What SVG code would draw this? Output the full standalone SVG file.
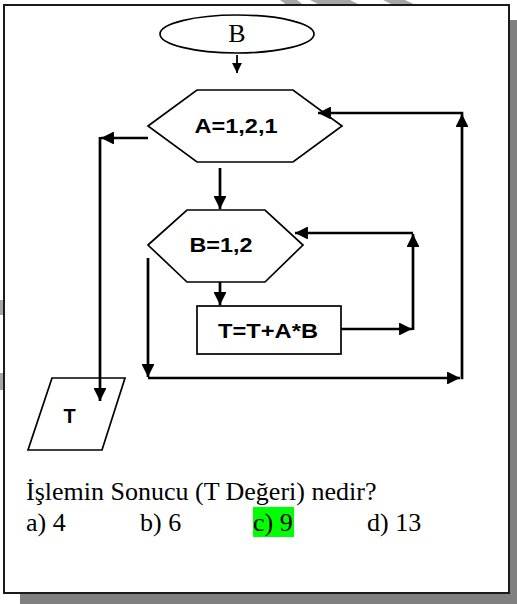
<svg xmlns="http://www.w3.org/2000/svg" width="517" height="604" viewBox="0 0 517 604">
<defs>
<style>
.shape{fill:#fff;stroke:#000;stroke-width:1.7}
.ln{fill:none;stroke:#000;stroke-width:2.7}
.thin{fill:none;stroke:#000;stroke-width:1.8}
.lbl{font-family:"Liberation Sans",Arial,sans-serif;font-weight:bold;font-size:20px;text-anchor:middle}
.ser{font-family:"Liberation Serif","Times New Roman",serif;font-size:26px}
.wm{fill:#a6a6a6}
</style>
<marker id="ah" viewBox="0 0 10 10" refX="10" refY="5" markerWidth="5.6" markerHeight="4.8" markerUnits="strokeWidth" orient="auto">
<path d="M0,0 L10,5 L0,10 Z" fill="#000"/>
</marker>
<marker id="ahs" viewBox="0 0 10 10" refX="10" refY="5" markerWidth="5.5" markerHeight="5.5" markerUnits="strokeWidth" orient="auto">
<path d="M0,0 L10,5 L0,10 Z" fill="#000"/>
</marker>
</defs>
<rect width="517" height="604" fill="#fff"/>
<g id="watermark">
<polygon class="wm" points="280,0 297,0 305,6 288,6"/>
<polygon class="wm" points="310,0 350,0 362,6 322,6"/>
<polygon class="wm" points="383,0 405,0 418,6 395,6"/>
<rect class="wm" x="0" y="300" width="4" height="15"/>
<rect class="wm" x="0" y="373" width="4" height="17"/>
</g>
<rect x="20" y="20" width="497" height="584" fill="#808080"/>
<rect x="4" y="5" width="505" height="588" fill="#fff" stroke="#1a1a1a" stroke-width="2"/>
<g id="start">
<ellipse class="shape" cx="237" cy="34" rx="77" ry="19"/>
<text class="ser" x="237" y="42" text-anchor="middle">B</text>
</g>
<g id="loopA">
<polygon class="shape" points="148,126 197,90 293,90 342,126 293,162 197,162"/>
<text class="lbl" x="236" y="133" textLength="83" lengthAdjust="spacingAndGlyphs">A=1,2,1</text>
</g>
<g id="loopB">
<polygon class="shape" points="148,245 187,210 265,210 303,245 265,282 187,282"/>
<text class="lbl" x="221" y="252" textLength="63" lengthAdjust="spacingAndGlyphs">B=1,2</text>
</g>
<g id="process">
<rect class="shape" x="197" y="306" width="144" height="48"/>
<text class="lbl" x="268" y="338" textLength="100" lengthAdjust="spacingAndGlyphs">T=T+A*B</text>
</g>
<g id="output">
<polygon class="shape" points="52,378 125,378 102,450 28,450"/>
<text class="lbl" x="69.5" y="423">T</text>
</g>
<g id="connectors">
<line class="thin" x1="237" y1="55" x2="237" y2="73" marker-end="url(#ahs)"/>
<line class="ln" x1="148" y1="138" x2="101" y2="138" marker-end="url(#ah)"/>
<line class="ln" x1="100" y1="137" x2="100" y2="401" marker-end="url(#ah)"/>
<line class="ln" x1="220" y1="168" x2="220" y2="209" marker-end="url(#ah)"/>
<line class="ln" x1="220" y1="282" x2="220" y2="305" marker-end="url(#ah)"/>
<line class="ln" x1="341" y1="329" x2="412" y2="329" marker-end="url(#ah)"/>
<line class="ln" x1="413" y1="330" x2="413" y2="234" marker-end="url(#ah)"/>
<line class="ln" x1="413" y1="233" x2="295" y2="233" marker-end="url(#ah)"/>
<line class="ln" x1="148" y1="258" x2="148" y2="377" marker-end="url(#ah)"/>
<line class="ln" x1="148" y1="378" x2="460" y2="378" marker-end="url(#ah)"/>
<line class="ln" x1="462" y1="379.3" x2="462" y2="114" marker-end="url(#ah)"/>
<line class="ln" x1="463.3" y1="113" x2="318" y2="113" marker-end="url(#ah)"/>
</g>
<g id="question">
<text class="ser" x="26" y="500">İşlemin Sonucu (T Değeri) nedir?</text>
<rect x="253" y="507" width="41" height="30" fill="#00ff00"/>
<text class="ser" x="26" y="531">a) 4</text>
<text class="ser" x="140" y="531">b) 6</text>
<text class="ser" x="253" y="531">c) 9</text>
<text class="ser" x="367" y="531">d) 13</text>
</g>
</svg>
